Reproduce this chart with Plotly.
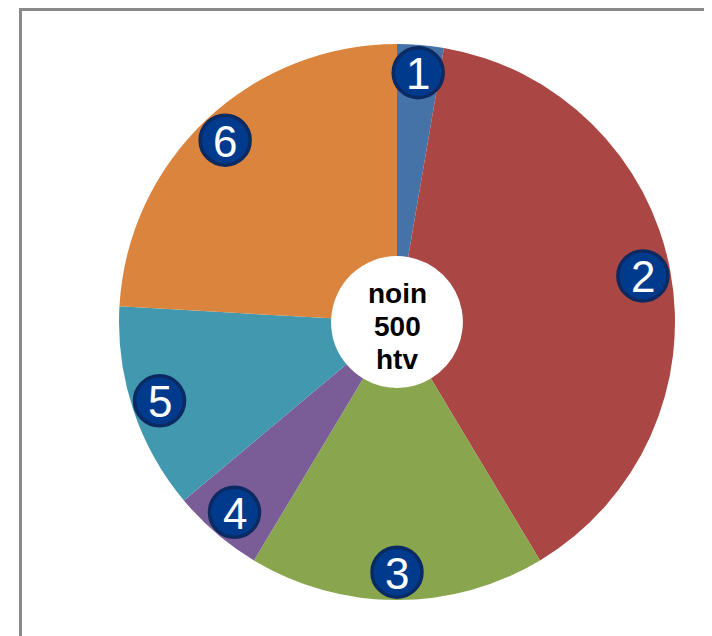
import math
import plotly.graph_objects as go

# ---- data ----
labels = ["1", "2", "3", "4", "5", "6"]
values = [2.7, 38.7, 17.2, 5.3, 12.0, 24.1]
colors = ["#4572A7", "#AA4643", "#89A54E", "#7A5C96", "#4198AF", "#DB843D"]
center_lines = ["noin", "500", "htv"]

# figure occupies the page from (8, 8) because of the default body margin
OFF = 8
W, H = 712 - OFF, 636 - OFF
cx, cy, R = 397 - OFF, 322 - OFF, 278  # pie center in figure pixels (from top), radius

dx0, dx1 = (cx - R) / W, (cx + R) / W
dy0, dy1 = (H - cy - R) / H, (H - cy + R) / H

fig = go.Figure()
fig.add_trace(go.Pie(
    labels=labels, values=values, sort=False, direction="clockwise", rotation=0,
    hole=0.237, marker=dict(colors=colors, line=dict(width=0)),
    textinfo="none", hoverinfo="skip", showlegend=False,
    domain=dict(x=[dx0, dx1], y=[dy0, dy1]),
))

# invisible helper trace so the overlay axes exist
fig.add_trace(go.Scatter(x=[-1, 1], y=[-1, 1], mode="markers",
                         marker=dict(opacity=0), hoverinfo="skip", showlegend=False))
fig.update_xaxes(domain=[dx0, dx1], range=[-1, 1], visible=False, fixedrange=True)
fig.update_yaxes(domain=[dy0, dy1], range=[-1, 1], visible=False, fixedrange=True)

# numbered badges at the slice mid-angles
total = sum(values)
rf = 0.9
badge_r = 25 / R
cum = 0
for lab, v in zip(labels, values):
    mid = (cum + v / 2) / total * 2 * math.pi
    x, y = rf * math.sin(mid), rf * math.cos(mid)
    cum += v
    fig.add_shape(type="circle", xref="x", yref="y",
                  x0=x - badge_r, x1=x + badge_r, y0=y - badge_r, y1=y + badge_r,
                  fillcolor="#003A8C", line=dict(color="#0B2A62", width=3.5), layer="above")
    fig.add_annotation(x=x, y=y, xref="x", yref="y", text=lab, showarrow=False,
                       xanchor="center", yanchor="middle", yshift=-1,
                       font=dict(family="Liberation Sans, Arial", size=44, color="white"))

# center text
for i, t in enumerate(center_lines):
    fig.add_annotation(
        x=cx / W, y=(H - (cy - 29 + 33 * i)) / H, xref="paper", yref="paper",
        text=f"<b>{t}</b>", showarrow=False, xanchor="center", yanchor="middle",
        font=dict(family="Liberation Sans, Arial", size=28, color="black"),
    )

# frame
fig.add_shape(type="rect", xref="paper", yref="paper",
              x0=12.5 / W, x1=1.2, y0=-0.2, y1=(H - 1.5) / H,
              line=dict(color="#8A8A8A", width=3), layer="below")

fig.update_layout(
    width=W, height=H, margin=dict(l=0, r=0, t=0, b=0),
    paper_bgcolor="white", plot_bgcolor="rgba(0,0,0,0)", hovermode=False,
)

fig.write_html("out.html")
